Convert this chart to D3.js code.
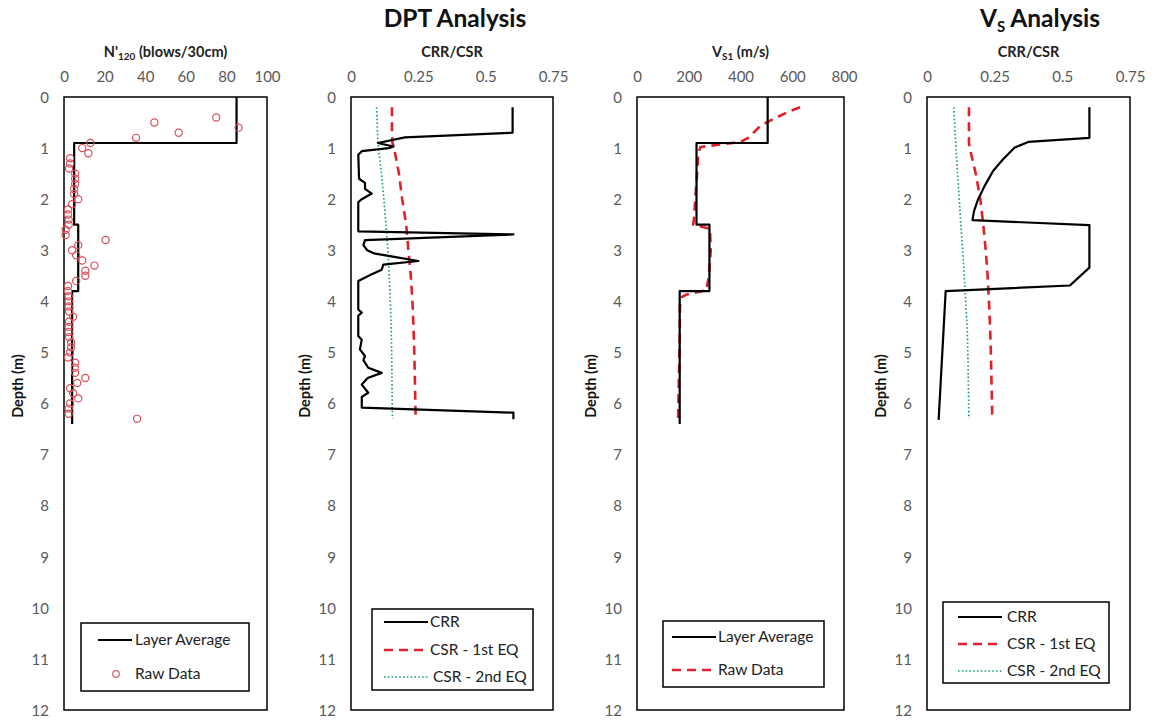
<!DOCTYPE html>
<html><head><meta charset="utf-8">
<script src="https://cdn.jsdelivr.net/npm/d3@7"></script>
<style>
body{margin:0;background:#fff;}
svg{display:block;font-family:Lato,"Open Sans",sans-serif;}
</style></head>
<body><svg id="c" width="1155" height="721"></svg>
<script>
// ---------- DATA ----------
const depthTicks = [0,1,2,3,4,5,6,7,8,9,10,11,12];
const nTicks = [0,20,40,60,80,100];
const crrTicks = [0,0.25,0.5,0.75];
const vsTicks = [0,200,400,600,800];

// Panel 1: N'120
const nLayerAvg = [[85,0],[85,0.9],[5,0.9],[5,2.5],[7,2.5],[7,3.8],[4,3.8],[4,6.4]];
const nRaw = [[75,0.4],[44.5,0.5],[86,0.6],[56.5,0.7],[35.5,0.8],[13,0.9],[9,1.0],[12,1.1],
  [3,1.2],[3,1.3],[2.5,1.4],[5.5,1.5],[5.5,1.6],[5.5,1.7],[5,1.8],[5,1.9],[7,2.0],[4,2.1],
  [2,2.2],[2,2.3],[2.3,2.4],[2.3,2.5],[0.8,2.6],[0.8,2.7],[20.5,2.8],[7,2.9],[4,3.0],[6,3.1],
  [9,3.2],[15,3.3],[10.5,3.4],[10.5,3.5],[6,3.6],[2,3.7],[2,3.8],[2.3,3.9],[2.3,4.0],[2.3,4.1],
  [2.5,4.2],[4.5,4.3],[2.5,4.4],[2.3,4.5],[2.3,4.6],[2.5,4.7],[3.5,4.8],[3.5,4.9],[3,5.0],
  [2,5.1],[5.5,5.2],[5.3,5.3],[5.5,5.4],[10.5,5.5],[6.5,5.6],[3,5.7],[4.5,5.8],[7,5.9],
  [3,6.0],[2.3,6.1],[2.3,6.2],[36,6.3]];

// Panel 2: DPT CRR / CSR
const dptCRR = [[0.6,0.2],[0.6,0.7],[0.2,0.79],[0.1,0.9],[0.158,0.97],[0.14,1.0],[0.04,1.06],
  [0.027,1.13],[0.03,1.6],[0.052,1.68],[0.052,1.8],[0.077,1.89],[0.04,2.0],[0.027,2.06],
  [0.027,2.63],[0.603,2.69],[0.052,2.8],[0.046,2.9],[0.06,3.0],[0.085,3.06],[0.15,3.12],
  [0.25,3.21],[0.12,3.28],[0.114,3.38],[0.077,3.47],[0.027,3.6],[0.027,4.16],[0.04,4.22],
  [0.027,4.28],[0.027,4.68],[0.04,4.75],[0.033,4.94],[0.052,5.07],[0.046,5.15],[0.064,5.3],
  [0.114,5.4],[0.062,5.5],[0.04,5.63],[0.064,5.79],[0.04,5.87],[0.04,6.08],[0.603,6.18],[0.603,6.31]];
const dptCSR1 = [[0.152,0.2],[0.152,0.6],[0.154,0.9],[0.16,1.0],[0.178,1.5],[0.19,2.0],[0.205,2.5],
  [0.213,3.0],[0.222,3.5],[0.228,4.0],[0.232,4.5],[0.235,5.0],[0.237,5.5],[0.239,6.0],[0.24,6.3]];
const dptCSR2 = [[0.095,0.2],[0.1,0.9],[0.113,1.5],[0.122,2.0],[0.13,2.5],[0.137,3.0],[0.142,3.5],
  [0.146,4.0],[0.149,4.5],[0.151,5.0],[0.152,5.5],[0.153,6.0],[0.154,6.3]];

// Panel 3: Vs1
const vsLayerAvg = [[505,0],[505,0.9],[230,0.9],[230,2.5],[280,2.5],[280,3.8],[165,3.8],[165,6.4]];
const vsRaw = [[630,0.2],[580,0.3],[540,0.4],[500,0.5],[470,0.6],[450,0.7],[430,0.8],[400,0.88],
  [320,0.93],[245,0.98],[237,1.1],[232,1.5],[225,2.0],[220,2.4],[217,2.5],[282,2.58],[285,3.0],
  [278,3.5],[268,3.78],[190,3.87],[172,3.92],[166,4.1],[164,5.0],[162,5.5],[160,6.0],[159,6.3]];

// Panel 4: Vs CRR / CSR
const vsCRR = [[0.6,0.2],[0.6,0.8],[0.374,0.88],[0.324,0.99],[0.281,1.22],[0.244,1.45],[0.213,1.74],
  [0.189,2.0],[0.174,2.23],[0.168,2.41],[0.6,2.51],[0.6,3.34],[0.528,3.69],[0.069,3.8],[0.043,6.32]];
const vsCSR1 = [[0.155,0.2],[0.155,0.9],[0.158,1.0],[0.18,1.5],[0.197,2.0],[0.208,2.5],[0.217,3.0],
  [0.224,3.5],[0.229,4.0],[0.233,4.5],[0.236,5.0],[0.238,5.5],[0.24,6.0],[0.241,6.3]];
const vsCSR2 = [[0.099,0.2],[0.104,0.7],[0.111,1.35],[0.119,2.0],[0.127,2.65],[0.133,3.1],
  [0.139,3.63],[0.145,4.2],[0.149,4.6],[0.152,5.3],[0.155,6.3]];

// ---------- LAYOUT ----------
const svg = d3.select("#c");
const Y0 = 97, Y1 = 710;
const y = d3.scaleLinear().domain([0,12]).range([Y0,Y1]);
const RED = "#e0202a", GREEN = "#1aa37a", GRAY = "#595959";

const styles = {
  solid: {stroke:"#000", w:2.2, dash:null},
  dash: {stroke:RED, w:2.6, dash:"9,6"},
  dot: {stroke:GREEN, w:1.7, dash:"1.6,2.2"}
};

function panel(x0, x1, domain, ticks, fmt, titleFn) {
  const x = d3.scaleLinear().domain(domain).range([x0,x1]);
  const g = svg.append("g");
  const ax = d3.axisTop(x).tickValues(ticks).tickFormat(fmt).tickSize(0).tickPadding(0);
  const ga = g.append("g").attr("transform",`translate(0,${Y0-15})`).call(ax);
  ga.select(".domain").remove();
  ga.selectAll("text").attr("fill",GRAY).style("font-size","15px").style("font-family","Lato");
  const ay = d3.axisLeft(y).tickValues(depthTicks).tickSize(0).tickPadding(0);
  const gy = g.append("g").attr("transform",`translate(${x0-15},0)`).call(ay);
  gy.select(".domain").remove();
  gy.selectAll("text").attr("fill",GRAY).attr("dy","0.35em").style("font-size","15px").style("font-family","Lato");
  g.append("rect").attr("x",x0).attr("y",Y0).attr("width",x1-x0).attr("height",Y1-Y0)
    .attr("fill","none").attr("stroke","#000").attr("stroke-width",1.5);
  const t = g.append("text").attr("x",(x0+x1)/2).attr("y",57).attr("text-anchor","middle")
    .style("font-size","14.5px").style("font-weight","bold").attr("fill","#222");
  titleFn(t);
  g.append("text").attr("transform",`translate(${x0-41},386) rotate(-90)`).attr("text-anchor","middle")
    .style("font-size","14.5px").style("font-weight","bold").attr("fill","#111").text("Depth (m)");
  return {x, g};
}

function drawLine(p, data, st) {
  const line = d3.line().x(d=>p.x(d[0])).y(d=>y(d[1]));
  p.g.append("path").datum(data).attr("d",line).attr("fill","none")
    .attr("stroke",styles[st].stroke).attr("stroke-width",styles[st].w)
    .attr("stroke-dasharray",styles[st].dash).attr("stroke-linejoin","round");
}

function legend(g, bx, by, bw, bh, items) {
  g.append("rect").attr("x",bx).attr("y",by).attr("width",bw).attr("height",bh)
    .attr("fill","#fff").attr("stroke","#000").attr("stroke-width",1.5);
  items.forEach(it=>{
    if (it.type==="circle") {
      g.append("circle").attr("cx",it.x1-16).attr("cy",it.y).attr("r",3.3).attr("fill","none")
        .attr("stroke","#d9606a").attr("stroke-width",1.2);
    } else {
      const s = styles[it.type];
      g.append("line").attr("x1",it.x0).attr("x2",it.x1).attr("y1",it.y).attr("y2",it.y)
        .attr("stroke",s.stroke).attr("stroke-width",s.w).attr("stroke-dasharray",s.dash);
    }
    g.append("text").attr("x",it.tx).attr("y",it.y).attr("dy","0.35em")
      .style("font-size","15.5px").attr("fill","#222").text(it.label);
  });
}

const fmtCRR = d => d===0?"0":String(d);

const p1 = panel(64,267,[0,100],nTicks,d3.format("d"), t=>{
  t.append("tspan").text("N'");
  t.append("tspan").attr("dy",3).style("font-size","10px").text("120");
  t.append("tspan").attr("dy",-3).text(" (blows/30cm)");
});
drawLine(p1, nLayerAvg, "solid");
p1.g.selectAll("circle.raw").data(nRaw).enter().append("circle").attr("class","raw")
  .attr("cx",d=>p1.x(d[0])).attr("cy",d=>y(d[1])).attr("r",3.6)
  .attr("fill","none").attr("stroke","#d9505a").attr("stroke-width",1.2);
legend(p1.g, 81, 623, 168, 68, [
  {type:"solid", x0:98, x1:132, y:640, tx:135, label:"Layer Average"},
  {type:"circle", x0:98, x1:132, y:674, tx:135, label:"Raw Data"}
]);

const p2 = panel(351,553,[0,0.75],crrTicks,fmtCRR, t=>t.text("CRR/CSR"));
drawLine(p2, dptCSR2, "dot");
drawLine(p2, dptCSR1, "dash");
drawLine(p2, dptCRR, "solid");
legend(p2.g, 372, 609, 161, 81, [
  {type:"solid", x0:384, x1:428, y:622, tx:430, label:"CRR"},
  {type:"dash", x0:384, x1:428, y:650, tx:430, label:"CSR - 1st EQ"},
  {type:"dot", x0:384, x1:428, y:677, tx:433, label:"CSR - 2nd EQ"}
]);

const p3 = panel(637,844,[0,800],vsTicks,d3.format("d"), t=>{
  t.append("tspan").text("V");
  t.append("tspan").attr("dy",3).style("font-size","10px").text("S1");
  t.append("tspan").attr("dy",-3).text(" (m/s)");
});
drawLine(p3, vsRaw, "dash");
drawLine(p3, vsLayerAvg, "solid");
legend(p3.g, 663, 621, 161, 66, [
  {type:"solid", x0:672, x1:716, y:637, tx:718, label:"Layer Average"},
  {type:"dash", x0:672, x1:716, y:670, tx:718, label:"Raw Data"}
]);

const p4 = panel(927,1130,[0,0.75],crrTicks,fmtCRR, t=>t.text("CRR/CSR"));
drawLine(p4, vsCSR2, "dot");
drawLine(p4, vsCSR1, "dash");
drawLine(p4, vsCRR, "solid");
legend(p4.g, 943, 602, 166, 81, [
  {type:"solid", x0:958, x1:1002, y:617, tx:1007, label:"CRR"},
  {type:"dash", x0:958, x1:1002, y:644, tx:1007, label:"CSR - 1st EQ"},
  {type:"dot", x0:958, x1:1002, y:671, tx:1007, label:"CSR - 2nd EQ"}
]);

svg.append("text").attr("x",455).attr("y",27).attr("text-anchor","middle")
  .style("font-size","24.5px").style("font-weight","bold").attr("fill","#111").text("DPT Analysis");
const vt = svg.append("text").attr("x",1040).attr("y",27).attr("text-anchor","middle")
  .style("font-size","24.5px").style("font-weight","bold").attr("fill","#111");
vt.append("tspan").text("V");
vt.append("tspan").attr("dy",5).style("font-size","15px").text("S");
vt.append("tspan").attr("dy",-5).text(" Analysis");
</script></body></html>
